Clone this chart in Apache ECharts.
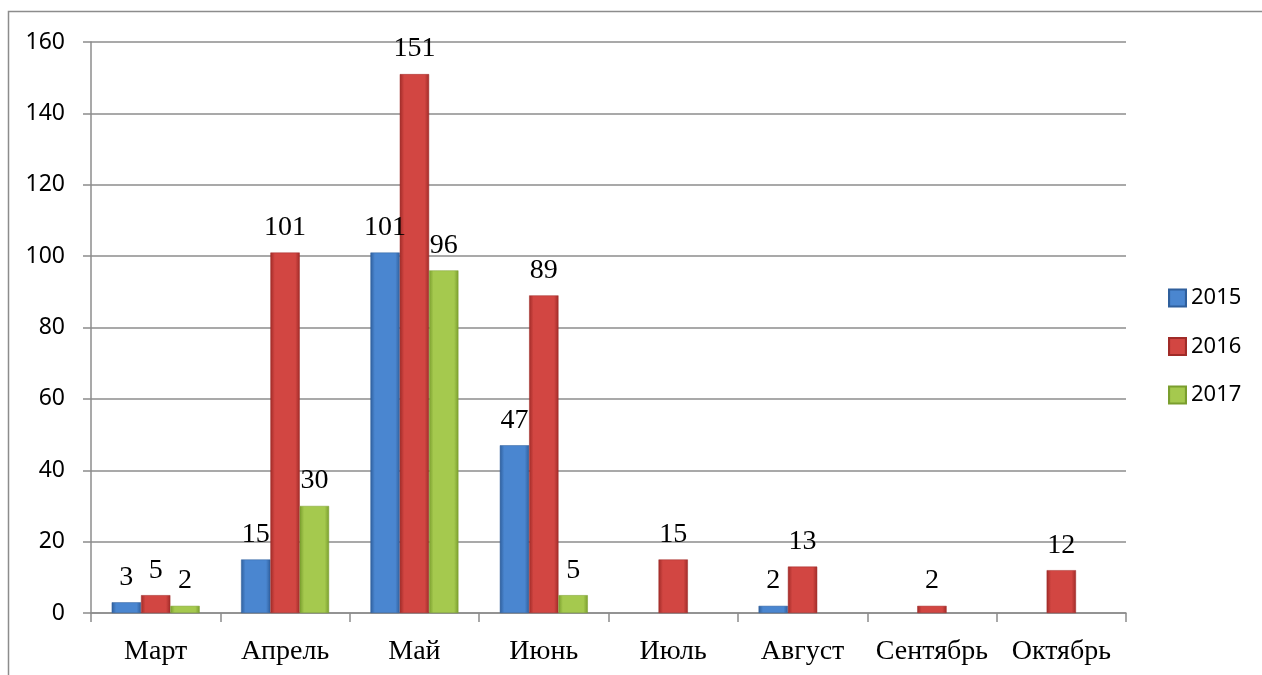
<!DOCTYPE html>
<html><head><meta charset="utf-8">
<script src="https://cdn.jsdelivr.net/npm/echarts@6/dist/echarts.min.js"></script>
<style>html,body{margin:0;padding:0;background:#fff}#c{width:1262px;height:675px}</style>
</head><body><div id="c"></div>
<script>
const categories = ['Март','Апрель','Май','Июнь','Июль','Август','Сентябрь','Октябрь'];
const series2015 = [3, 15, 101, 47, null, 2, null, null];
const series2016 = [5, 101, 151, 89, 15, 13, 2, 12];
const series2017 = [2, 30, 96, 5, null, null, null, null];
const yTicks = {min: 0, max: 160, interval: 20};

function grad(edge, mid){
  return {type:'linear', x:0, y:0, x2:1, y2:0, colorStops:[
    {offset:0, color:edge},{offset:0.15, color:mid},{offset:0.85, color:mid},{offset:1, color:edge}]};
}
const labelStyle = {show:true, position:'top', distance:11, fontFamily:'Liberation Serif', fontSize:28, color:'#000'};
function mk(name, data, edge, mid){
  return {name, type:'bar', data, barGap:'0%', barCategoryGap:'32%',
    itemStyle:{color:grad(edge, mid), borderColor:edge, borderWidth:0.5},
    label:labelStyle};
}
const chart = echarts.init(document.getElementById('c'));
chart.setOption({
  animation:false,
  graphic:[{type:'rect', shape:{x:8.5, y:11.5, width:1300, height:700}, style:{fill:'none', stroke:'#8c8c8c', lineWidth:1.5}}],
  grid:{left:91, right:136, top:42, bottom:62},
  legend:{orient:'vertical', left:1163, top:282, icon:'rect', itemWidth:17, itemHeight:17, itemGap:26.5,
    textStyle:{fontFamily:'Noto Sans', fontSize:22, color:'#000'},
    data:['2015','2016','2017']},
  xAxis:{type:'category', data:categories,
    axisLine:{lineStyle:{color:'#8c8c8c', width:1.5}},
    axisTick:{show:true, length:9, lineStyle:{color:'#8c8c8c', width:1.5}},
    axisLabel:{interval:0, hideOverlap:false, fontFamily:'Liberation Serif', fontSize:28, color:'#000', margin:25}},
  yAxis:{type:'value', min:yTicks.min, max:yTicks.max, interval:yTicks.interval,
    axisLine:{show:true, lineStyle:{color:'#8c8c8c', width:1.5}},
    axisTick:{show:true, length:8, inside:false, lineStyle:{color:'#8c8c8c', width:1.5}},
    splitLine:{lineStyle:{color:'#8c8c8c', width:1.5}},
    axisLabel:{fontFamily:'Noto Sans', fontSize:23, color:'#000', margin:26}},
  series:[
    mk('2015', series2015, '#2f5f9c', '#4a86d0'),
    mk('2016', series2016, '#a02b28', '#d24642'),
    mk('2017', series2017, '#7a9e2e', '#a5c94e')
  ]
});
</script></body></html>
